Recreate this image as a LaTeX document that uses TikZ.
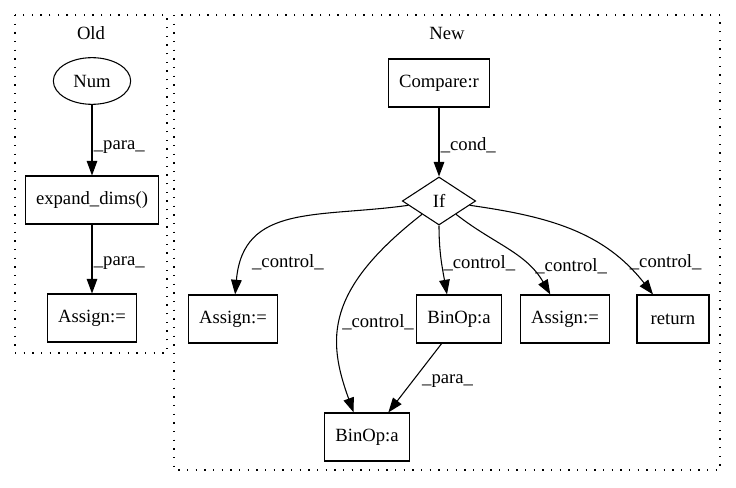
\documentclass[tikz,border=0pt]{standalone}
\usepackage{fontspec}
\setmainfont{Liberation Serif}
\usetikzlibrary{arrows.meta,shapes.geometric,positioning}

\begin{document}
\begin{tikzpicture}[x=0.75pt,y=-0.75pt,>={Triangle[length=11pt,width=8pt]},line width=0.8pt,
every node/.style={font=\fontsize{14}{16}\selectfont},
box/.style={draw,rectangle,minimum width=54pt,minimum height=36pt,inner xsep=8pt},
cluster/.style={draw,line width=1pt,dash pattern=on 1pt off 5.5pt},
lbl/.style={anchor=west,inner sep=1pt}]
\useasboundingbox (0,0) rectangle (736,488);

% clusters
\draw[cluster] (15,15) rectangle (167,353);
\draw[cluster] (174,15) rectangle (720,470);
\node (oldt) at (91,33) {Old};
\node (newt) at (447,33) {New};

% old
\node[draw,ellipse,minimum width=58pt,minimum height=35pt] (num) at (92,81) {Num};
\node[box] (expand) at (92,200) {expand\_dims()};
\node[box] (assign0) at (92,318) {Assign:=};

% new
\node[box] (compare) at (439,83) {Compare:r};
\node[draw,diamond,aspect=1.5,minimum width=55pt,minimum height=36pt,inner sep=1pt] (cond) at (439,201) {If};
\node[box] (assign1) at (233,319) {Assign:=};
\node[box] (binop1) at (459,319) {BinOp:a};
\node[box] (assign2) at (565,319) {Assign:=};
\node[box] (ret) at (673,319) {return};
\node[box] (binop2) at (367,437) {BinOp:a};


\path[->] (num) edge node[lbl,pos=0.6]{\_para\_} (expand)
(expand) edge node[lbl,pos=0.56]{\_para\_} (assign0)
(compare) edge node[lbl,pos=0.54]{\_cond\_} (cond)
(cond) edge[out=188,in=85,looseness=1.2] node[lbl,pos=0.86,xshift=6pt]{\_control\_} (assign1)
(cond) edge[out=218,in=110,out looseness=1.5,in looseness=0.95] node[lbl,pos=0.54,xshift=0.5pt]{\_control\_} ([xshift=-10pt]binop2.north)
(cond.south) edge[out=-90,in=100] node[lbl,pos=0.55]{\_control\_} ([xshift=-9pt]binop1.north)
(cond) edge[out=-38,in=120] node[lbl,pos=0.72,xshift=4pt]{\_control\_} ([xshift=-11pt]assign2.north)
(cond) edge[out=-8,in=128] node[lbl,pos=0.8,xshift=4pt]{\_control\_} ([xshift=-15pt]ret.north)
([xshift=-13pt]binop1.south) edge node[lbl,pos=0.55,xshift=6pt]{\_para\_} ([xshift=16pt]binop2.north);
\end{tikzpicture}
\end{document}
